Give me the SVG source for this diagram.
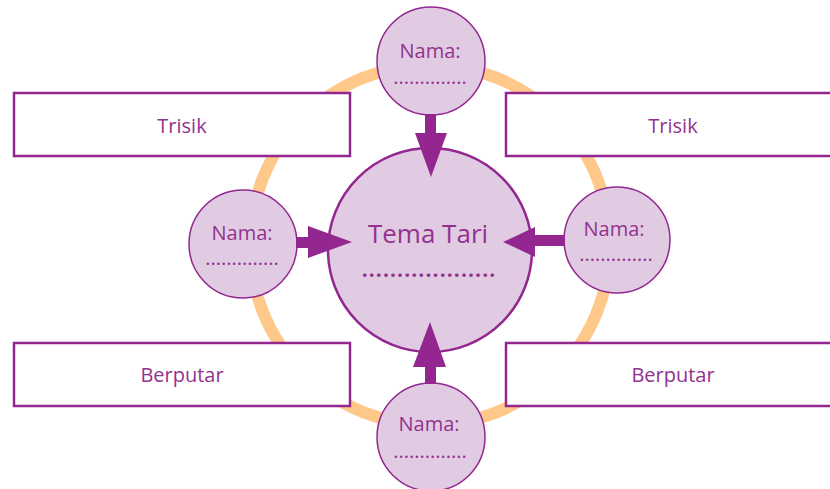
<svg xmlns="http://www.w3.org/2000/svg" width="830" height="489" viewBox="0 0 830 489">
<style>
.ring{fill:none;stroke:#FEC88A;stroke-width:12}
.box{fill:#fff;stroke:#93278F;stroke-width:2.5}
.c{fill:#E0CBE3;stroke:#93278F;stroke-width:1.5}
.big{fill:#E0CBE3;stroke:#93278F;stroke-width:2.5}
.t{font-family:"Open Sans","Liberation Sans",sans-serif;fill:#93328E;text-anchor:middle}
.arr{fill:#93278F}
</style>
<circle class="ring" cx="430" cy="245" r="180"/>
<g id="box-tl"><rect class="box" x="14" y="93" width="336" height="63"/><text class="t" x="182" y="133" font-size="20">Trisik</text></g>
<g id="box-tr"><rect class="box" x="506" y="93" width="340" height="63"/><text class="t" x="673" y="133" font-size="20">Trisik</text></g>
<g id="box-bl"><rect class="box" x="14" y="343" width="336" height="63"/><text class="t" x="182" y="382" font-size="20">Berputar</text></g>
<g id="box-br"><rect class="box" x="506" y="343" width="340" height="63"/><text class="t" x="673" y="382" font-size="20">Berputar</text></g>
<g id="center"><circle class="big" cx="430" cy="250" r="102"/><text class="t" x="428" y="243" font-size="26">Tema Tari</text><text class="t" x="429" y="277" font-size="21" font-weight="700" letter-spacing="1.1">...................</text></g>
<g id="n-top"><circle class="c" cx="431" cy="61" r="54"/><text class="t" x="430" y="58" font-size="20">Nama:</text><text class="t" x="430" y="84" font-size="20">..............</text></g>
<g id="n-left"><circle class="c" cx="243" cy="244" r="54"/><text class="t" x="242" y="240" font-size="20">Nama:</text><text class="t" x="242" y="265" font-size="20">..............</text></g>
<g id="n-right"><circle class="c" cx="617" cy="240" r="53"/><text class="t" x="614" y="236" font-size="20">Nama:</text><text class="t" x="616" y="261" font-size="20">..............</text></g>
<g id="n-bottom"><circle class="c" cx="431" cy="437" r="54"/><text class="t" x="429" y="431" font-size="20">Nama:</text><text class="t" x="430" y="458" font-size="20">..............</text></g>
<g id="connectors">
<path class="arr" d="M425 114 H436 V133 H447 L431 177 L415 133 H425 Z"/>
<path class="arr" d="M425 384 H436 V367 H446 L430 322 L413 367 H425 Z"/>
<path class="arr" d="M296 237 V248 H308 V258 L352 242 L308 226 V237 Z"/>
<path class="arr" d="M565 235 V246 H535 V257 L503 242 L535 227 V235 Z"/>
</g>
</svg>
